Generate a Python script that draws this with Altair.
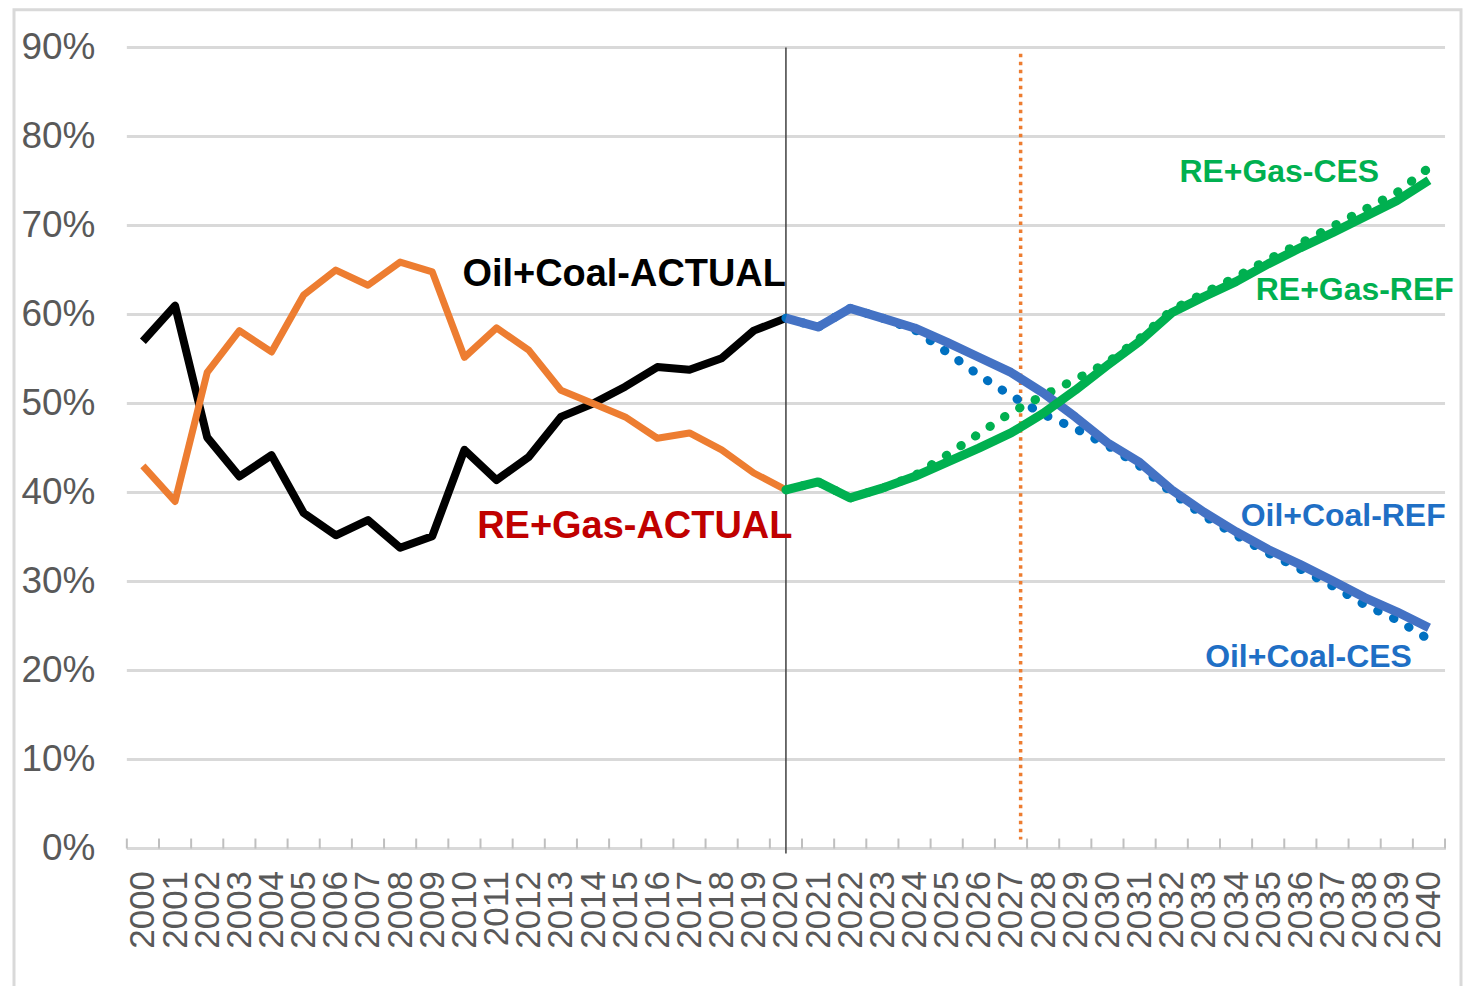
import altair as alt
import pandas as pd

# ---------------- data ----------------
years_actual = list(range(2000, 2021))
oil_coal_actual = [57.0, 61.0, 46.2, 41.8, 44.2, 37.7, 35.2, 36.9, 33.8, 35.1, 44.8,
                   41.4, 44.0, 48.5, 50.0, 51.9, 54.1, 53.8, 55.1, 58.2, 59.6]
re_gas_actual = [43.0, 39.0, 53.5, 58.2, 55.8, 62.2, 65.0, 63.3, 65.9, 64.8, 55.2,
                 58.5, 56.0, 51.5, 50.0, 48.5, 46.1, 46.7, 44.8, 42.2, 40.3]

years_proj = list(range(2020, 2041))
oil_coal_ref = [59.6, 58.6, 60.7, 59.6, 58.5, 56.9, 55.2, 53.5, 51.2, 48.5, 45.6,
                43.4, 40.3, 37.8, 35.6, 33.6, 31.9, 30.1, 28.2, 26.6, 24.8]
oil_coal_ces = [59.6, 58.6, 60.7, 59.6, 58.3, 55.8, 53.2, 50.9, 48.8, 47.2, 45.3,
                43.0, 40.0, 37.4, 35.2, 33.2, 31.4, 29.5, 27.4, 25.7, 23.5]
re_gas_ref = [40.3, 41.2, 39.4, 40.5, 41.8, 43.4, 45.0, 46.7, 48.9, 51.5, 54.3,
              57.0, 60.2, 62.0, 63.7, 65.7, 67.5, 69.2, 71.0, 72.8, 75.1]
re_gas_ces = [40.3, 41.2, 39.4, 40.5, 41.9, 44.2, 46.6, 49.0, 50.9, 52.7, 54.6,
              57.3, 60.5, 62.4, 64.2, 66.2, 68.0, 69.9, 71.8, 73.7, 76.5]

year_labels = list(range(2000, 2041))
tick_years = [y - 0.5 for y in range(2000, 2042)]
y_ticks = [0.0, 0.1, 0.2, 0.3, 0.4, 0.5, 0.6, 0.7, 0.8, 0.9]

actual_divider = [2020]
marker_year = [2027.3]

label_text = ["Oil+Coal-ACTUAL", "RE+Gas-ACTUAL", "RE+Gas-CES", "RE+Gas-REF",
              "Oil+Coal-REF", "Oil+Coal-CES"]
label_year = [2020.0, 2020.2, 2038.45, 2040.77, 2040.52, 2039.47]
label_value = [0.645, 0.361, 0.760, 0.628, 0.374, 0.215]
label_color = ["#000000", "#C00000", "#00B050", "#00B050", "#1F6FC5", "#1F6FC5"]
label_size = [38, 38, 32, 32, 32, 32]

# ---------------- tables ----------------
rows = []
for name, yrs, vals in [
    ("Oil+Coal-ACTUAL", years_actual, oil_coal_actual),
    ("RE+Gas-ACTUAL", years_actual, re_gas_actual),
    ("Oil+Coal-REF", years_proj, oil_coal_ref),
    ("Oil+Coal-CES", years_proj, oil_coal_ces),
    ("RE+Gas-REF", years_proj, re_gas_ref),
    ("RE+Gas-CES", years_proj, re_gas_ces),
]:
    for yr, v in zip(yrs, vals):
        rows.append({"series": name, "year": yr, "value": v / 100.0})
df = pd.DataFrame(rows)

labels_df = pd.DataFrame({"label": label_text, "lx": label_year, "ly": label_value,
                          "col": label_color, "fs": label_size})
divider_df = pd.DataFrame({"year": actual_divider, "top": [0.9]})
marker_df = pd.DataFrame({"year": marker_year, "top": [0.893], "bottom": [0.01]})
ticks_df = pd.DataFrame({"year": tick_years})
grid_df = pd.DataFrame({"value": y_ticks})

FONT = "Liberation Sans, Arial, sans-serif"
W, H = 1320, 802
x_scale = alt.Scale(domain=[1999.5, 2040.5], nice=False, zero=False)
y_scale = alt.Scale(domain=[0, 0.9], nice=False)

x_label_axis = alt.Axis(values=year_labels, format="d", labelAngle=-90, ticks=False,
                        grid=False, domain=True, domainColor="#BFBFBF", domainWidth=2,
                        labelFont=FONT, labelFontSize=35,
                        labelColor="#595959", labelPadding=22, labelOverlap=False,
                        labelFlush=False, title=None)
y_axis = alt.Axis(values=y_ticks, format=".0%", grid=False, domain=False, ticks=False,
                  labelFont=FONT, labelFontSize=37,
                  labelColor="#595959", labelPadding=32, title=None)


def series_line(name, color, dotted=False, width=8):
    mark_kwargs = dict(color=color, strokeWidth=width, strokeJoin="round")
    if dotted:
        mark_kwargs.update(strokeDash=[0.5, 17], strokeCap="round")
    else:
        mark_kwargs.update(strokeCap="butt")
    return (
        alt.Chart(df)
        .transform_filter(alt.datum.series == name)
        .mark_line(**mark_kwargs)
        .encode(
            x=alt.X("year:Q", scale=x_scale, axis=x_label_axis),
            y=alt.Y("value:Q", scale=y_scale, axis=y_axis),
        )
    )


# horizontal gridlines (from the tick value list, through the y scale)
grid = (
    alt.Chart(grid_df)
    .mark_rule(color="#D9D9D9", strokeWidth=3)
    .encode(y=alt.Y("value:Q", scale=y_scale, axis=y_axis))
)

border = (
    alt.Chart(alt.Data(values=[{"a": 1}]))
    .mark_rect(filled=False, stroke="#D9D9D9", strokeWidth=3)
    .encode(x=alt.value(-113), x2=alt.value(1336), y=alt.value(-38), y2=alt.value(945))
)

# category-boundary tick marks standing on the x axis line
tick_layer = (
    alt.Chart(ticks_df)
    .mark_rule(color="#BFBFBF", strokeWidth=2)
    .encode(x=alt.X("year:Q", scale=x_scale, axis=x_label_axis),
            y=alt.value(H - 10), y2=alt.value(H))
)

divider = (
    alt.Chart(divider_df)
    .mark_rule(color="#404040", strokeWidth=1.5)
    .encode(
        x=alt.X("year:Q", scale=x_scale, axis=x_label_axis),
        y=alt.Y("top:Q", scale=y_scale, axis=y_axis),
        y2=alt.value(H + 5),
    )
)

marker = (
    alt.Chart(marker_df)
    .mark_rule(color="#ED7D31", strokeWidth=3.5, strokeDash=[3.5, 4.5])
    .encode(
        x=alt.X("year:Q", scale=x_scale, axis=x_label_axis),
        y=alt.Y("top:Q", scale=y_scale, axis=y_axis),
        y2="bottom:Q",
    )
)

labels = (
    alt.Chart(labels_df)
    .mark_text(align="right", baseline="middle", font=FONT, fontWeight="bold")
    .encode(
        x=alt.X("lx:Q", scale=x_scale, axis=x_label_axis),
        y=alt.Y("ly:Q", scale=y_scale, axis=y_axis),
        text="label:N",
        color=alt.Color("col:N", scale=None),
        size=alt.Size("fs:Q", scale=None),
    )
)

chart = (
    alt.layer(
        grid,
        border,
        tick_layer,
        divider,
        marker,
        series_line("Oil+Coal-ACTUAL", "#000000"),
        series_line("RE+Gas-ACTUAL", "#ED7D31", width=7),
        series_line("Oil+Coal-CES", "#0070C0", dotted=True, width=9),
        series_line("RE+Gas-CES", "#00B050", dotted=True, width=9),
        series_line("Oil+Coal-REF", "#4472C4", width=9),
        series_line("RE+Gas-REF", "#00B050", width=9),
        labels,
    )
    .properties(width=W, height=H, autosize="none",
                padding={"left": 119, "top": 39, "right": 20, "bottom": 137},
                background="white")
    .configure_view(stroke=None)
)

chart.save("out.html", embed_options={"renderer": "svg", "actions": False})
